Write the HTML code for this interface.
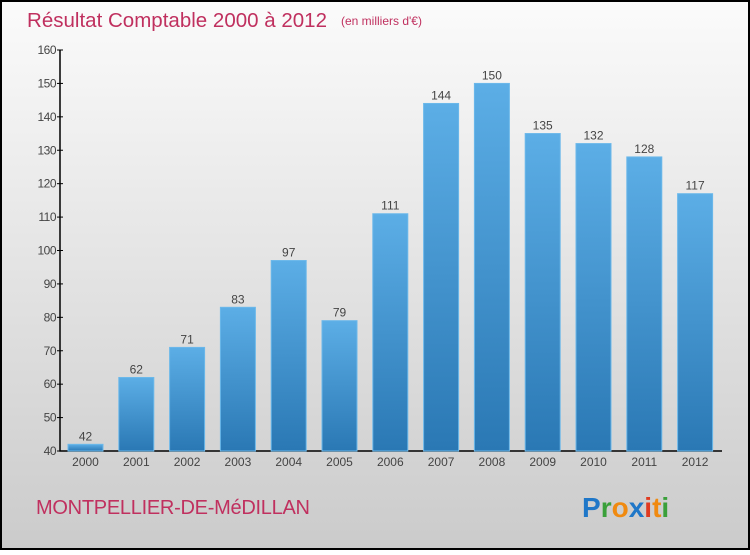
<!DOCTYPE html>
<html><head><meta charset="utf-8"><style>
body{margin:0;width:750px;height:550px;overflow:hidden;font-family:"Liberation Sans",sans-serif}
</style></head><body>
<svg id="c" width="750" height="550" xmlns="http://www.w3.org/2000/svg">
<defs>
<linearGradient id="bg" x1="0" y1="0" x2="0" y2="1"><stop offset="0" stop-color="#fbfbfb"/><stop offset="1" stop-color="#cbcbcb"/></linearGradient>
<linearGradient id="bar" x1="0" y1="0" x2="0" y2="1"><stop offset="0" stop-color="#5caee6"/><stop offset="1" stop-color="#2a78b4"/></linearGradient>
</defs>
<rect x="1" y="1" width="748" height="548" fill="url(#bg)" stroke="#000" stroke-width="2"/>
<text x="27" y="27" font-size="20.5" fill="#c0305f" textLength="300">Résultat Comptable 2000 à 2012</text>
<text x="341" y="25" font-size="12" fill="#c0305f">(en milliers d'€)</text>
<text x="36" y="514" font-size="20" fill="#c0305f" textLength="274">MONTPELLIER-DE-MéDILLAN</text>
<g font-size="28" font-weight="bold" font-family="Liberation Sans,sans-serif">
<text x="582" y="517"><tspan fill="#1f77c8">P</tspan><tspan fill="#3aa03a">r</tspan><tspan fill="#f08a10">o</tspan><tspan fill="#1f77c8">x</tspan><tspan fill="#e03a20">i</tspan><tspan fill="#f08a10">t</tspan><tspan fill="#3aa03a">i</tspan></text>
</g>
<g id="plot"></g>
</svg>
<script>
const years=["2000","2001","2002","2003","2004","2005","2006","2007","2008","2009","2010","2011","2012"];
const values=[42,62,71,83,97,79,111,144,150,135,132,128,117];
const ticks=[40,50,60,70,80,90,100,110,120,130,140,150,160];
const NS="http://www.w3.org/2000/svg";
const g=document.getElementById('plot');
const y=v=>451-(v-40)*(401/120);
const x=i=>68+i*50.8;
function mk(t,a,txt){const e=document.createElementNS(NS,t);for(const k in a)e.setAttribute(k,a[k]);if(txt!=null)e.textContent=txt;g.appendChild(e);return e;}
let ax=mk('path',{d:'M60,50V451H722',stroke:'#000','stroke-width':1.5,fill:'none'});


ticks.forEach(t=>{
  let l=mk('line',{x1:57,x2:63,y1:y(t),y2:y(t),stroke:'#000'});
  
  
  let tx=mk('text',{x:56,y:y(t)+4,'font-size':12,'text-anchor':'end',fill:'#444','letter-spacing':'-0.5'},t);
  
  
});
values.forEach((v,i)=>{
  let r=mk('rect',{x:x(i),y:y(v),width:35,height:451-y(v),fill:'url(#bar)',stroke:'#6bb8ea','stroke-width':1});
  
  
  let vl=mk('text',{x:x(i)+17.5,y:y(v)-4,'font-size':12,'text-anchor':'middle',fill:'#444'},v);
  
  
  let xl=mk('text',{x:x(i)+17.5,y:466,'font-size':12,'text-anchor':'middle',fill:'#444'},years[i]);
  
  
});
</script>
</body></html>
